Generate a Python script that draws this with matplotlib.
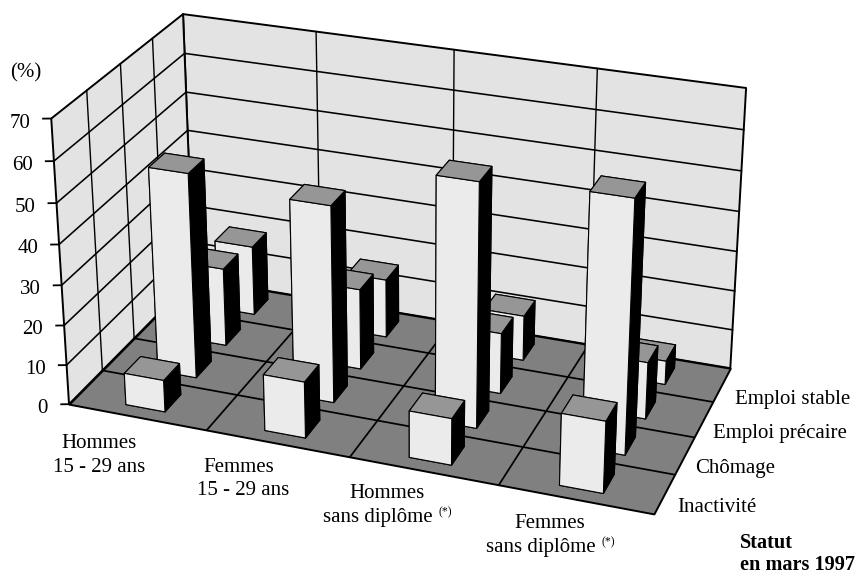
import numpy as np
import matplotlib
matplotlib.use("Agg")
import matplotlib.pyplot as plt
from mpl_toolkits.mplot3d.art3d import Poly3DCollection

# ---- data -------------------------------------------------------------
groups = ["Hommes\n15 - 29 ans", "Femmes\n15 - 29 ans", "Hommes\nsans diplôme", "Femmes\nsans diplôme"]
statuts = ["Inactivité", "Chômage", "Emploi précaire", "Emploi stable"]
inactivite = [8, 14, 11.5, 17.5]
chomage = [51.5, 49, 60, 61.5]
precaire = [20, 20.5, 15.3, 14.2]
stable = [18, 15, 11.5, 6]
z_ticks = [0, 10, 20, 30, 40, 50, 60, 70]

# ---- camera calibration: scene anchor (x, y, z) -> picture pixel (u, v) --
W, H = 859, 575
scene_anchor = np.array([
    (0, 0, 0), (1, 0, 0), (2, 0, 0), (3, 0, 0), (4, 0, 0),
    (4, 1, 0), (4, 2, 0), (4, 3, 0), (4, 4, 0), (0, 4, 0),
    (0, 0, 70), (0, 0, 50), (0, 0, 30),
    (0, 4, 70), (4, 4, 70), (3, 4, 70), (1, 4, 70), (2, 4, 70),
    (0, 1, 70), (0, 2, 70), (0, 3, 70)], float)
pixel_anchor = np.array([
    (68.3, 404.5), (207.3, 430), (350.7, 457.3), (497.5, 485), (654, 514.3),
    (675, 474.3), (694.3, 437.3), (711.7, 401.7), (730.7, 368.3), (193.7, 278),
    (52, 117.7), (57.3, 202.7), (61.7, 285),
    (183, 14), (746, 87.7), (597.3, 68.3), (316, 31.7), (455, 50),
    (86, 90.7), (120, 64), (151.7, 39)], float)


def fit_camera(s, p):
    Ss = np.diag([1, 1, 1 / 17.5, 1.0])
    Sp = np.diag([1 / 400, 1 / 400, 1.0])
    sh = np.c_[s, np.ones(len(s))] @ Ss
    ph = p / 400
    rows = []
    for X, (u, v) in zip(sh, ph):
        rows.append(np.r_[X, np.zeros(4), -u * X])
        rows.append(np.r_[np.zeros(4), X, -v * X])
    P = np.linalg.svd(np.array(rows))[2][-1].reshape(3, 4)
    P = np.linalg.inv(Sp) @ P @ Ss
    w = P[2] @ np.array([2, 2, 35, 1])
    return P / w


CAM = fit_camera(scene_anchor, pixel_anchor)


def to_pixel(x, y, z):
    q = CAM @ np.array([x, y, z, 1.0])
    return q[0] / q[2], q[1] / q[2]


plt.rcParams["font.family"] = ["Liberation Serif", "DejaVu Serif"]
FS = 15
WALL, FLOOR, FRONT, TOP, SIDE = "#e3e3e3", "#808080", "#ebebeb", "#969696", "#000000"

fig = plt.figure(figsize=(W / 100, H / 100), dpi=100)
ax = fig.add_axes([0, -(W - H) / 2 / H, 1, W / H], projection="3d", computed_zorder=False)
ax.set_axis_off()
ax.patch.set_visible(False)


def get_proj():
    T = ax.transData.get_affine().inverted().get_matrix()
    F = np.array([[1, 0, 0], [0, -1, H], [0, 0, 1.0]])
    Q = T @ F @ CAM
    return np.vstack([Q[0], Q[1], [0, 0, 0, -1], Q[2]])


ax.get_proj = get_proj

X1, Y1, Z1 = len(groups), len(statuts), z_ticks[-1]
EDGE = 1.4
ax.add_collection3d(Poly3DCollection(
    [[(0, 0, 0), (0, Y1, 0), (0, Y1, Z1), (0, 0, Z1)],
     [(0, Y1, 0), (X1, Y1, 0), (X1, Y1, Z1), (0, Y1, Z1)]],
    facecolors=WALL, edgecolors="k", linewidths=EDGE, zorder=1))
ax.add_collection3d(Poly3DCollection(
    [[(0, 0, 0), (X1, 0, 0), (X1, Y1, 0), (0, Y1, 0)]],
    facecolors=FLOOR, edgecolors="k", linewidths=EDGE, zorder=2))

for z in z_ticks[1:-1]:
    ax.plot([0, 0, X1], [0, Y1, Y1], [z, z, z], color="k", lw=1.15, zorder=1.5)
for i in range(1, X1):
    ax.plot([i, i], [Y1, Y1], [0, Z1], color="k", lw=1.0, zorder=1.5)
    ax.plot([i, i], [0, Y1], [0, 0], color="k", lw=1.25, zorder=3)
for j in range(1, Y1):
    ax.plot([0, 0], [j, j], [0, Z1], color="k", lw=1.0, zorder=1.5)
    ax.plot([0, X1], [j, j], [0, 0], color="k", lw=1.25, zorder=3)

# bars, back row first
series = [inactivite, chomage, precaire, stable]
BAR_DX, BAR_DY = 0.285, 0.50
order = 10
for j in range(len(series) - 1, -1, -1):
    for i, v in enumerate(series[j]):
        ax.bar3d(i + (1 - BAR_DX) / 2, j + (1 - BAR_DY) / 2, 0, BAR_DX, BAR_DY, v,
                 color=[FLOOR, TOP, FRONT, WALL, WALL, SIDE],
                 edgecolor="k", linewidth=0.8, shade=False, zorder=order)
        order += 1


def label(x, y, s, **kw):
    kw.setdefault("fontsize", FS)
    kw.setdefault("va", "baseline")
    ax.text2D(x / W, 1 - y / H, s, transform=fig.transFigure, **kw)


# ticks and their labels run horizontally in the picture
for z in z_ticks:
    ax.plot([0, -0.048], [0, -0.038], [z, z], color="k", lw=1.3, zorder=3)
    px, py = to_pixel(0, 0, z)
    label(px - 21, py + 9, str(z), ha="right")

label(10, 77, "(%)")
label(99, 448, "Hommes", ha="center")
label(99, 472, "15 - 29 ans", ha="center")
label(238.5, 472, "Femmes", ha="center")
label(243, 495, "15 - 29 ans", ha="center")
label(387, 498, "Hommes", ha="center")
label(377.7, 521.6, "sans diplôme", ha="center")
label(550, 528, "Femmes", ha="center")
label(540.8, 551.7, "sans diplôme", ha="center")
label(438.3, 515, "(*)", fontsize=8.5, ha="left")
label(601.7, 545, "(*)", fontsize=8.5, ha="left")
label(735, 404, statuts[3])
label(713, 437.7, statuts[2])
label(695, 473.3, statuts[1])
label(677, 511.7, statuts[0])
label(740, 547.5, "Statut", fontweight="bold", fontsize=14.6)
label(740, 570, "en mars 1997", fontweight="bold", fontsize=14.6)

fig.savefig("out.png", dpi=100)
